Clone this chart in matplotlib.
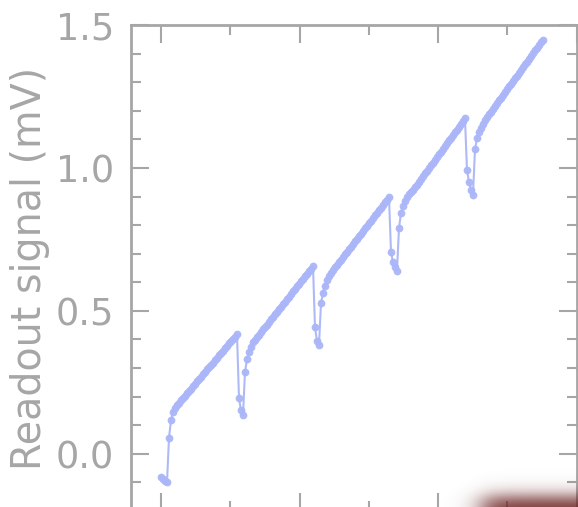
import numpy as np
import matplotlib
matplotlib.use("Agg")
import matplotlib.pyplot as plt
from matplotlib.ticker import MultipleLocator

# Readout signal (mV), one list per ramp
ramp_1 = [-0.080, -0.088, -0.094, -0.100, 0.056, 0.118, 0.146, 0.162, 0.170, 0.179,
          0.187, 0.195, 0.203, 0.212, 0.220, 0.228, 0.237, 0.245, 0.253, 0.261,
          0.270, 0.278, 0.286, 0.295, 0.303, 0.311, 0.319, 0.328, 0.336, 0.344,
          0.353, 0.361, 0.369, 0.377, 0.386, 0.394, 0.402, 0.410, 0.418]
ramp_2 = [0.195, 0.152, 0.135, 0.287, 0.330, 0.355, 0.374, 0.390, 0.399, 0.408,
          0.417, 0.426, 0.435, 0.443, 0.452, 0.461, 0.470, 0.479, 0.488, 0.497,
          0.506, 0.515, 0.524, 0.532, 0.541, 0.550, 0.559, 0.568, 0.577, 0.586,
          0.595, 0.604, 0.613, 0.621, 0.630, 0.639, 0.648, 0.657]
ramp_3 = [0.442, 0.395, 0.381, 0.527, 0.563, 0.588, 0.607, 0.622, 0.634, 0.643,
          0.652, 0.661, 0.670, 0.679, 0.688, 0.698, 0.707, 0.716, 0.725, 0.734,
          0.743, 0.752, 0.761, 0.770, 0.779, 0.789, 0.798, 0.807, 0.816, 0.825,
          0.834, 0.843, 0.852, 0.861, 0.870, 0.880, 0.889, 0.898]
ramp_4 = [0.707, 0.670, 0.652, 0.641, 0.790, 0.843, 0.868, 0.885, 0.898, 0.909,
          0.916, 0.923, 0.933, 0.942, 0.952, 0.961, 0.971, 0.981, 0.990, 1.000,
          1.009, 1.019, 1.029, 1.038, 1.048, 1.057, 1.067, 1.077, 1.086, 1.096,
          1.105, 1.115, 1.125, 1.134, 1.144, 1.153, 1.163, 1.173]
ramp_5 = [0.993, 0.950, 0.923, 0.906, 1.065, 1.103, 1.125, 1.141, 1.155, 1.168,
          1.178, 1.187, 1.197, 1.207, 1.217, 1.226, 1.236, 1.246, 1.256, 1.265,
          1.275, 1.285, 1.294, 1.304, 1.314, 1.323, 1.333, 1.343, 1.353, 1.362,
          1.372, 1.381, 1.391, 1.401, 1.411, 1.420, 1.430, 1.440, 1.449]

signal = ramp_1 + ramp_2 + ramp_3 + ramp_4 + ramp_5
sample_step = 0.01444  # uniform sampling time
t = np.arange(len(signal)) * sample_step

grey = '#a6a6a6'
blue = '#aab6f7'

W, H = 578, 507
fig = plt.figure(figsize=(W / 100, H / 100), dpi=100)
ax = fig.add_axes([131 / W, (507 - 511) / H, (576.5 - 131) / W, (511 - 25) / H])

ax.plot(t, signal, '-', color=blue, lw=1.5, marker='o', ms=5.6,
        markeredgewidth=0, alpha=0.95)

ax.set_xlim(-30 / 138.5, 3.0)
ax.set_ylim(-0.2, 1.5)
ax.xaxis.set_major_locator(MultipleLocator(1.0))
ax.xaxis.set_minor_locator(MultipleLocator(0.5))
ax.yaxis.set_major_locator(MultipleLocator(0.5))
ax.yaxis.set_minor_locator(MultipleLocator(0.1))
ax.tick_params(which='both', direction='in', top=True, right=True, color=grey,
               width=1.5, labelcolor=grey, labelsize=26.5)
ax.tick_params(which='major', length=13, pad=12)
ax.tick_params(which='minor', length=7)
ax.tick_params(axis='x', labelbottom=False)
for s in ax.spines.values():
    s.set_color(grey)
    s.set_linewidth(2)

ax.set_ylabel('Readout signal (mV)', fontsize=28.5, color=grey, labelpad=4)

# blurred dark red shape peeking in at the bottom right
yy, xx = np.mgrid[0:H, 0:W]
a = 0.5 * (1 + np.tanh((xx - 482) / 16.0)) * 0.5 * (1 + np.tanh((yy - 496) / 10.0))
img = np.zeros((H, W, 4))
img[..., 0] = 0.42
img[..., 1] = 0.13
img[..., 2] = 0.13
img[..., 3] = np.clip(a * 0.92, 0, 1)
over = fig.add_axes([0, 0, 1, 1], zorder=5)
over.imshow(img, extent=(0, W, H, 0), interpolation='bilinear')
over.set_xlim(0, W)
over.set_ylim(H, 0)
over.axis('off')

fig.savefig('out.png', dpi=100)
